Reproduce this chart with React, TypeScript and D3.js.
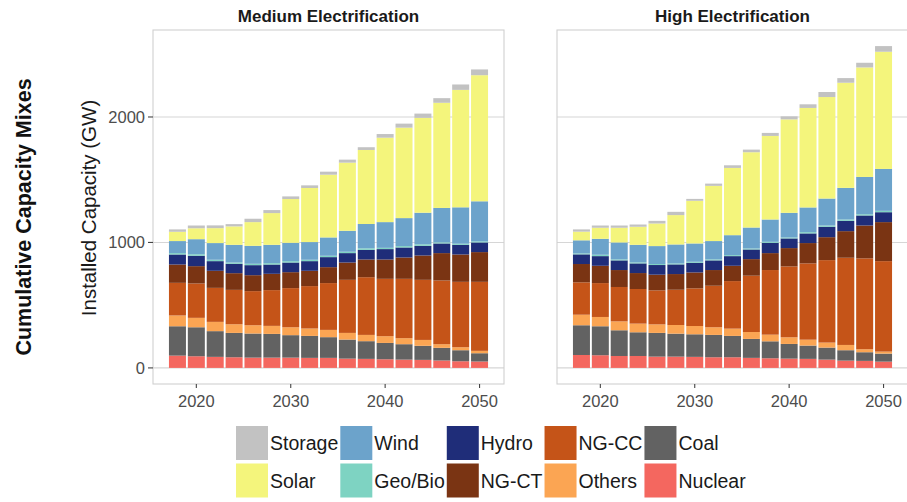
import React, { useEffect, useRef } from 'react';
import * as d3 from 'd3';

// stack order, bottom to top
const techs = ['Nuclear', 'Coal', 'Others', 'NG-CC', 'NG-CT', 'Hydro', 'Geo/Bio', 'Wind', 'Solar', 'Storage'];
const techColors = ['#F4675F', '#626262', '#FBA553', '#C55418', '#7A3413', '#1F2D79', '#7ED3C2', '#6CA3CB', '#F4F57C', '#C2C2C2'];

const years = [2018, 2020, 2022, 2024, 2026, 2028, 2030, 2032, 2034, 2036, 2038, 2040, 2042, 2044, 2046, 2048, 2050];
const panelTitles = ['Medium Electrification', 'High Electrification'];
const yTicks = [0, 1000, 2000];
const xTicks = [2020, 2030, 2040, 2050];

// Medium Electrification (GW)
const medNuclear = [98, 93, 88, 85, 82, 82, 82, 80, 80, 74, 72, 69, 66, 64, 59, 53, 51];
const medCoal = [234, 231, 205, 194, 192, 189, 179, 175, 165, 152, 141, 130, 123, 112, 101, 88, 66];
const medOthers = [86, 75, 74, 69, 66, 64, 63, 59, 58, 53, 50, 54, 48, 47, 29, 24, 19];
const medNGCC = [260, 274, 271, 274, 272, 285, 312, 338, 373, 423, 460, 457, 473, 479, 508, 521, 550];
const medNGCT = [146, 138, 136, 133, 127, 130, 127, 122, 127, 138, 141, 154, 170, 194, 218, 218, 237];
const medHydro = [80, 83, 77, 75, 80, 74, 77, 77, 80, 75, 77, 83, 80, 77, 77, 77, 77];
const medGeo = [11, 12, 11, 10, 11, 11, 11, 11, 11, 11, 12, 10, 11, 12, 9, 9, 9];
const medWind = [96, 120, 133, 141, 143, 146, 146, 141, 146, 167, 194, 205, 223, 252, 274, 290, 319];
const medSolar = [74, 87, 119, 147, 189, 253, 349, 431, 500, 543, 590, 673, 721, 756, 838, 936, 1005];
const medStorage = [19, 22, 22, 18, 27, 24, 21, 21, 24, 24, 22, 29, 32, 34, 37, 43, 46];

// High Electrification (GW)
const highNuclear = [103, 101, 95, 95, 90, 90, 88, 85, 85, 80, 77, 74, 72, 66, 58, 56, 50];
const highCoal = [237, 231, 205, 189, 189, 183, 180, 178, 170, 151, 135, 117, 106, 96, 83, 69, 64];
const highOthers = [84, 74, 71, 69, 68, 69, 66, 61, 58, 55, 53, 53, 47, 40, 42, 24, 16];
const highNGCC = [258, 270, 274, 276, 271, 281, 300, 331, 379, 449, 515, 565, 608, 657, 695, 724, 721];
const highNGCT = [146, 138, 135, 127, 125, 125, 127, 125, 122, 132, 135, 146, 162, 183, 212, 262, 311];
const highHydro = [77, 77, 77, 77, 77, 77, 77, 77, 77, 77, 82, 77, 77, 83, 82, 80, 79];
const highGeo = [8, 11, 8, 8, 8, 8, 8, 8, 8, 8, 8, 8, 10, 10, 11, 10, 11];
const highWind = [104, 127, 135, 140, 143, 151, 146, 146, 159, 167, 178, 196, 197, 215, 252, 297, 334];
const highSolar = [69, 88, 117, 144, 180, 234, 340, 440, 536, 600, 666, 745, 793, 809, 838, 873, 934];
const highStorage = [18, 18, 18, 18, 21, 26, 15, 18, 21, 21, 24, 24, 29, 40, 37, 37, 45];

const mediumSeries = [medNuclear, medCoal, medOthers, medNGCC, medNGCT, medHydro, medGeo, medWind, medSolar, medStorage];
const highSeries = [highNuclear, highCoal, highOthers, highNGCC, highNGCT, highHydro, highGeo, highWind, highSolar, highStorage];

type Row = { [key: string]: number };

const toRows = (series: number[][]): Row[] =>
  years.map((yr, i) => {
    const r: Row = { year: yr };
    techs.forEach((t, k) => (r[t] = series[k][i]));
    return r;
  });

const App: React.FC = () => {
  const ref = useRef<SVGSVGElement>(null);
  const width = 907;
  const height = 502;

  useEffect(() => {
    if (!ref.current) return;
    const svg = d3.select(ref.current);
    svg.selectAll('*').remove();

    const font = 'Liberation Sans, Arial, Helvetica, sans-serif';
    const panelW = 351;
    const panelTop = 30;
    const panelBottom = 384;
    const panelLefts = [153, 557];
    const barW = 1.8;

    const datasets = [toRows(mediumSeries), toRows(highSeries)];
    const stack = d3.stack<Row>().keys(techs);
    const stacked = datasets.map(d => stack(d));

    const maxTotal = d3.max(stacked, s => d3.max(s[s.length - 1], d => d[1])) as number;
    const yPad = maxTotal * 0.05;
    const yScale = d3
      .scaleLinear()
      .domain([-yPad, maxTotal + yPad])
      .range([panelBottom, panelTop]);

    const xMin = (d3.min(years) as number) - barW / 2;
    const xMax = (d3.max(years) as number) + barW / 2;
    const xPad = (xMax - xMin) * 0.05;
    const xScale = d3
      .scaleLinear()
      .domain([xMin - xPad, xMax + xPad])
      .range([0, panelW]);

    const color = d3.scaleOrdinal<string, string>().domain(techs).range(techColors);

    stacked.forEach((layers, p) => {
      const g = svg.append('g').attr('transform', `translate(${panelLefts[p]},0)`);

      g.append('rect')
        .attr('x', 0)
        .attr('y', panelTop)
        .attr('width', panelW)
        .attr('height', panelBottom - panelTop)
        .attr('fill', '#fff');

      g.selectAll('line.grid')
        .data(yTicks)
        .enter()
        .append('line')
        .attr('class', 'grid')
        .attr('x1', 0)
        .attr('x2', panelW)
        .attr('y1', d => yScale(d))
        .attr('y2', d => yScale(d))
        .attr('stroke', '#d6d6d6')
        .attr('stroke-width', 1.1);

      g.selectAll('g.layer')
        .data(layers)
        .enter()
        .append('g')
        .attr('class', 'layer')
        .attr('fill', d => color(d.key))
        .selectAll('rect')
        .data(d => d)
        .enter()
        .append('rect')
        .attr('x', d => xScale(d.data.year - barW / 2))
        .attr('width', xScale(barW) - xScale(0))
        .attr('y', d => yScale(d[1]))
        .attr('height', d => yScale(d[0]) - yScale(d[1]));

      g.append('rect')
        .attr('x', 0)
        .attr('y', panelTop)
        .attr('width', panelW)
        .attr('height', panelBottom - panelTop)
        .attr('fill', 'none')
        .attr('stroke', '#d0d0d0')
        .attr('stroke-width', 1.1);

      // x axis
      const xa = g.append('g').attr('transform', `translate(0,${panelBottom})`);
      xa.selectAll('line')
        .data(xTicks)
        .enter()
        .append('line')
        .attr('x1', d => xScale(d))
        .attr('x2', d => xScale(d))
        .attr('y1', 0)
        .attr('y2', 4)
        .attr('stroke', '#444')
        .attr('stroke-width', 1.1);
      xa.selectAll('text')
        .data(xTicks)
        .enter()
        .append('text')
        .attr('x', d => xScale(d))
        .attr('y', 22.5)
        .attr('text-anchor', 'middle')
        .attr('font-family', font)
        .attr('font-size', 16.5)
        .attr('fill', '#4d4d4d')
        .text(d => d);

      svg
        .append('text')
        .attr('x', panelLefts[p] + panelW / 2)
        .attr('y', 22)
        .attr('text-anchor', 'middle')
        .attr('font-family', font)
        .attr('font-weight', 'bold')
        .attr('font-size', 17)
        .attr('fill', '#1a1a1a')
        .text(panelTitles[p]);
    });

    // y axis on left panel
    const ya = svg.append('g').attr('transform', `translate(${panelLefts[0]},0)`);
    ya.selectAll('line')
      .data(yTicks)
      .enter()
      .append('line')
      .attr('x1', -5)
      .attr('x2', 0)
      .attr('y1', d => yScale(d))
      .attr('y2', d => yScale(d))
      .attr('stroke', '#444')
      .attr('stroke-width', 1.1);
    ya.selectAll('text')
      .data(yTicks)
      .enter()
      .append('text')
      .attr('x', -8)
      .attr('y', d => yScale(d))
      .attr('dy', '0.36em')
      .attr('text-anchor', 'end')
      .attr('font-family', font)
      .attr('font-size', 16.5)
      .attr('fill', '#4d4d4d')
      .text(d => d);

    svg
      .append('text')
      .attr('transform', `translate(96,${(panelTop + panelBottom) / 2 + 1}) rotate(-90)`)
      .attr('text-anchor', 'middle')
      .attr('font-family', font)
      .attr('font-size', 20.5)
      .attr('fill', '#1a1a1a')
      .text('Installed Capacity (GW)');

    svg
      .append('text')
      .attr('transform', `translate(31,217) rotate(-90)`)
      .attr('text-anchor', 'middle')
      .attr('font-family', font)
      .attr('font-weight', 'bold')
      .attr('font-size', 21.5)
      .attr('fill', '#111')
      .text('Cumulative Capacity Mixes');

    // legend: reversed stack order, filled column-wise in 2 rows
    const legendItems = techs.slice().reverse();
    const keyW = 32;
    const keyH = 34;
    const rowPitch = 37.5;
    const legendTop = 426;
    const lg = svg.append('g');
    let colX = 236;
    for (let c = 0; c < Math.ceil(legendItems.length / 2); c++) {
      let maxW = 0;
      for (let r = 0; r < 2; r++) {
        const name = legendItems[c * 2 + r];
        if (!name) continue;
        const y0 = legendTop + r * rowPitch;
        lg.append('rect')
          .attr('x', colX)
          .attr('y', y0)
          .attr('width', keyW)
          .attr('height', keyH)
          .attr('fill', color(name));
        const t = lg
          .append('text')
          .attr('x', colX + keyW + 2)
          .attr('y', y0 + keyH / 2)
          .attr('dy', '0.36em')
          .attr('font-family', font)
          .attr('font-size', 19.5)
          .attr('fill', '#1a1a1a')
          .text(name);
        const w = (t.node() as SVGTextElement).getComputedTextLength();
        maxW = Math.max(maxW, w);
      }
      colX = colX + keyW + 2 + maxW + 2;
    }
  }, []);

  return (
    <svg
      ref={ref}
      width={width}
      height={height}
      style={{ position: 'absolute', left: 0, top: 0, background: '#fff' }}
    />
  );
};

export default App;
